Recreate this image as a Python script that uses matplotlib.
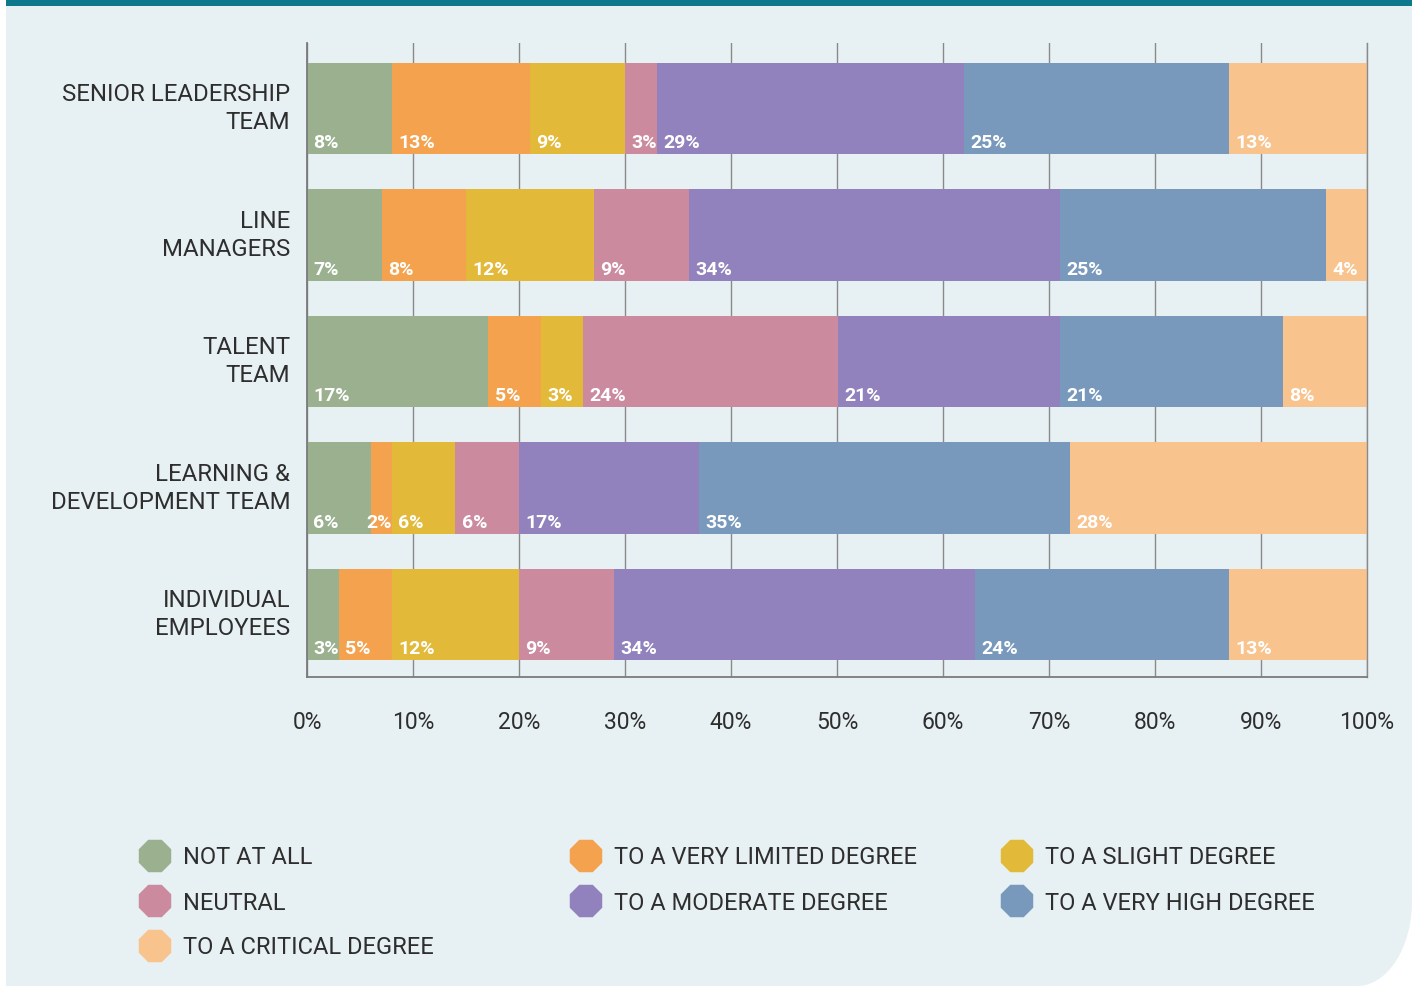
import numpy as np
import matplotlib
matplotlib.use('Agg')
import matplotlib.pyplot as plt
from matplotlib.patches import PathPatch, Rectangle
from matplotlib.path import Path
from matplotlib.transforms import ScaledTranslation

plt.rcParams['font.family'] = ['Roboto', 'DejaVu Sans']

categories = ["SENIOR LEADERSHIP\nTEAM", "LINE\nMANAGERS", "TALENT\nTEAM",
              "LEARNING &\nDEVELOPMENT TEAM", "INDIVIDUAL\nEMPLOYEES"]
series = ["NOT AT ALL", "TO A VERY LIMITED DEGREE", "TO A SLIGHT DEGREE",
          "NEUTRAL", "TO A MODERATE DEGREE", "TO A VERY HIGH DEGREE",
          "TO A CRITICAL DEGREE"]
colors = ["#9AB08F", "#F4A24E", "#E3B93A", "#CB8A9E", "#9181BC", "#7899BB", "#F9C38D"]

# bar lengths (as drawn) in percent
not_at_all   = [8, 7.1, 17.1, 6, 3]
very_limited = [13, 7.9, 5.0, 2, 5]
slight       = [9, 12.1, 3.9, 6, 12]
neutral      = [3, 8.9, 24.1, 6, 9]
moderate     = [29, 35.0, 20.9, 17, 34]
very_high    = [25, 25.1, 21.1, 35, 24]
critical     = [13, 3.9, 7.9, 28, 13]

# percentages printed on the bars
lab_not_at_all   = [8, 7, 17, 6, 3]
lab_very_limited = [13, 8, 5, 2, 5]
lab_slight       = [9, 12, 3, 6, 12]
lab_neutral      = [3, 9, 24, 6, 9]
lab_moderate     = [29, 34, 21, 17, 34]
lab_very_high    = [25, 25, 21, 35, 24]
lab_critical     = [13, 4, 8, 28, 13]

xticks = [0, 10, 20, 30, 40, 50, 60, 70, 80, 90, 100]
xtick_labels = [f"{t}%" for t in xticks]

values = [not_at_all, very_limited, slight, neutral, moderate, very_high, critical]
labels = [lab_not_at_all, lab_very_limited, lab_slight, lab_neutral,
          lab_moderate, lab_very_high, lab_critical]

W, H = 1417, 987
fig = plt.figure(figsize=(W / 100, H / 100), dpi=100)
fig.patch.set_facecolor('white')

# background panel (pixel coordinates)
bg = fig.add_axes([0, 0, 1, 1], zorder=-10)
bg.set_xlim(0, W)
bg.set_ylim(H, 0)
bg.axis('off')
rx, ry = 55, 85
x0, x1, y0, y1 = 6, 1412, 7, 987
th = np.linspace(0, np.pi / 2, 30)
arc = [(x1 - rx + rx * np.cos(t), y1 - ry + ry * np.sin(t)) for t in th]
verts = [(x0, y0), (x1, y0)] + arc + [(x0, y1), (x0, y0)]
bg.add_patch(PathPatch(Path(verts), facecolor="#E7F0F3", edgecolor='none'))
bg.add_patch(Rectangle((x0, 0), x1 - x0, 7, facecolor="#0E788C", edgecolor='none'))

# legend
for i, (name, c) in enumerate(zip(series, colors)):
    col, row = i % 3, i // 3
    mx = 155 + col * 431
    my = 857 + row * 45
    bg.scatter([mx], [my], s=640, marker='8', color=c, edgecolors='none')
    bg.text(mx + 28, my + 1, name, fontsize=17, color='#2e2e2e', va='center', ha='left')

# main chart
ax = fig.add_axes([307 / W, (H - 678) / H, 1060 / W, 634 / H])
ax.set_facecolor('none')
y = np.arange(len(categories))
left = np.zeros(len(categories))
for vals, labs, c in zip(values, labels, colors):
    vals = np.array(vals, dtype=float)
    ax.barh(y, vals, left=left, height=0.72, color=c, linewidth=0, zorder=2)
    for yi, (l, v, lab) in enumerate(zip(left, vals, labs)):
        if v < 3:
            ax.text(l + v, yi + 0.265, f"{lab}%", color='white', fontsize=14,
                    fontweight='bold', ha='right', va='center', zorder=3)
        else:
            ax.text(l + 0.6, yi + 0.265, f"{lab}%", color='white', fontsize=14,
                    fontweight='bold', ha='left', va='center', zorder=3)
    left += vals

ax.set_xlim(0, 100)
ax.set_ylim(4.494, -0.518)
ax.set_xticks(xticks)
ax.set_xticklabels(xtick_labels)
ax.set_yticks(y)
ax.set_yticklabels(categories, linespacing=1.3)
ax.tick_params(axis='x', length=0, pad=24, labelsize=16.5, labelcolor='#2e2e2e')
ax.tick_params(axis='y', length=0, pad=12, labelsize=17.3, labelcolor='#2e2e2e')
shift = ScaledTranslation(0, 6 / 100, fig.dpi_scale_trans)
for lbl in ax.get_yticklabels():
    lbl.set_transform(lbl.get_transform() + shift)
ax.grid(axis='x', color='#8a8a8a', linewidth=1.0, zorder=0)
ax.set_axisbelow(True)
ax.spines['top'].set_visible(False)
for s in ['left', 'bottom']:
    ax.spines[s].set_color('#7a7a7a')
    ax.spines[s].set_linewidth(1.3)
ax.spines['right'].set_color('#8a8a8a')
ax.spines['right'].set_linewidth(1.0)

fig.savefig('out.png', dpi=100)
